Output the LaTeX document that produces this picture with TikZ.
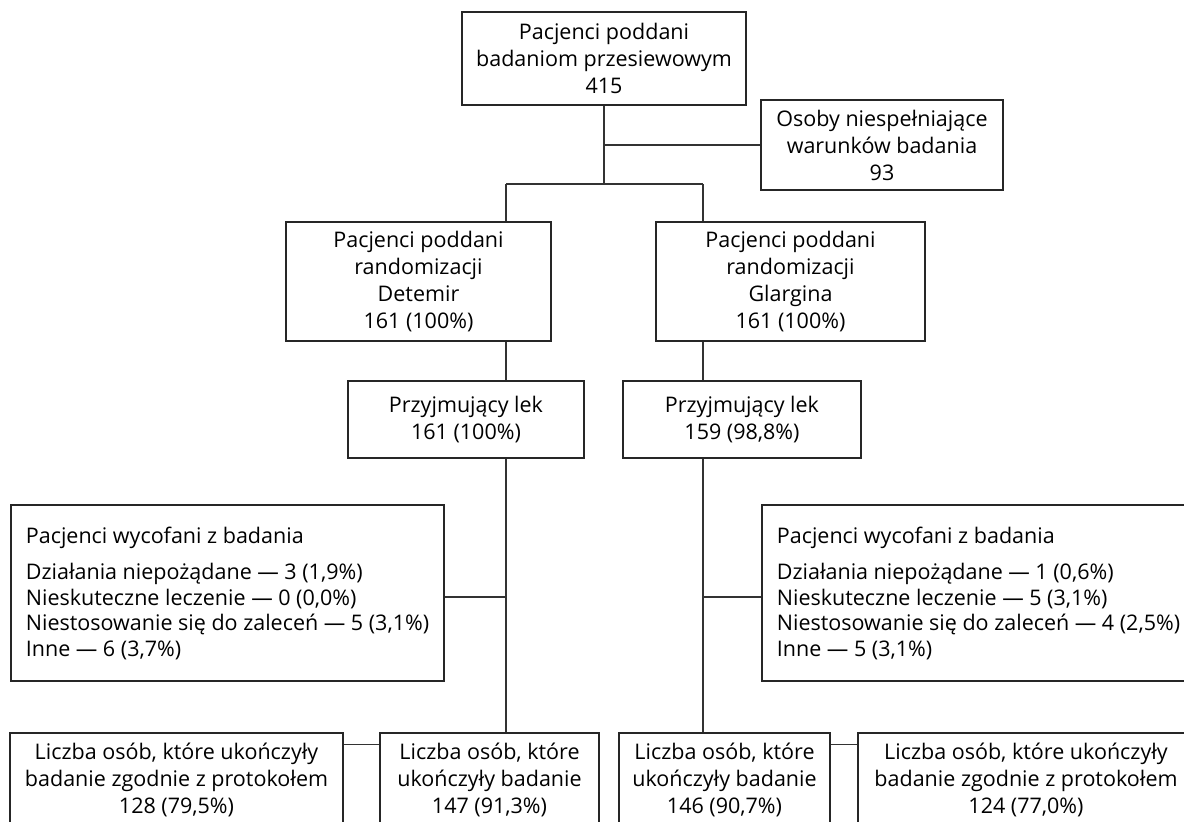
\documentclass[tikz,border=0pt]{standalone}
\usepackage{fontspec}
\setmainfont{Open Sans}
\usepackage{tikz}
\usetikzlibrary{shapes}
\usetikzlibrary{arrows}
\tikzstyle{flow} = [rectangle, align=center, inner sep=0pt, draw=black!85, line width=1.3pt, font=\fontsize{21.5pt}{27pt}\selectfont]
\tikzstyle{dropout} = [rectangle, align=left, inner sep=0pt, minimum width=433pt, minimum height=176pt, draw=black!85, line width=1.3pt, font=\fontsize{21.5pt}{25.5pt}\selectfont]
\tikzstyle{link} = [line width=1.3pt, draw=black!80]
\begin{document}
\begin{tikzpicture}[x=1pt, y=-1pt, node distance=140pt]

    \useasboundingbox (0,0) rectangle (1184,822);

    \node(screen)[flow, minimum width=284pt, minimum height=93pt] at (604,58.5) {Pacjenci poddani\\badaniom przesiewowym\\415};
    \node(excl)[flow, minimum width=242pt, minimum height=90pt, below of=screen, xshift=278pt, yshift=53.5pt] {Osoby niespełniające\\warunków badania\\93};

    \node(randD)[flow, minimum width=265pt, minimum height=119pt, below of=screen, xshift=-185.5pt, yshift=-83pt] {Pacjenci poddani\\randomizacji\\Detemir\\161 (100\%)};
    \node(randG)[flow, minimum width=269pt, minimum height=119pt, below of=screen, xshift=186.5pt, yshift=-83pt] {Pacjenci poddani\\randomizacji\\Glargina\\161 (100\%)};

    \node(takeD)[flow, minimum width=236pt, minimum height=77pt, below of=randD, xshift=47.5pt, yshift=2pt] {Przyjmujący lek\\161 (100\%)};
    \node(takeG)[flow, minimum width=238pt, minimum height=77pt, below of=randG, xshift=-48.5pt, yshift=2pt] {Przyjmujący lek\\159 (98,8\%)};

    \node(outD)[dropout, below of=takeD, xshift=-238.5pt, yshift=-33.5pt] {Pacjenci wycofani z badania\\[11pt]Działania niepożądane — 3 (1,9\%)\\Nieskuteczne leczenie — 0 (0,0\%)\\Niestosowanie się do zaleceń — 5 (3,1\%)\\Inne — 6 (3,7\%)};
    \node(outG)[dropout, below of=takeG, xshift=236.5pt, yshift=-33.5pt] {Pacjenci wycofani z badania\\[11pt]Działania niepożądane — 1 (0,6\%)\\Nieskuteczne leczenie — 5 (3,1\%)\\Niestosowanie się do zaleceń — 4 (2,5\%)\\Inne — 5 (3,1\%)};

    \node(finD)[flow, minimum width=219pt, minimum height=94pt, below of=outD, xshift=262pt, yshift=-47pt] {Liczba osób, które\\ukończyły badanie\\147 (91,3\%)};
    \node(protD)[flow, minimum width=333pt, minimum height=94pt, below of=outD, xshift=-51pt, yshift=-47pt] {Liczba osób, które ukończyły\\badanie zgodnie z protokołem\\128 (79,5\%)};
    \node(finG)[flow, minimum width=211pt, minimum height=94pt, below of=outG, xshift=-254pt, yshift=-47pt] {Liczba osób, które\\ukończyły badanie\\146 (90,7\%)};
    \node(protG)[flow, minimum width=336pt, minimum height=94pt, below of=outG, xshift=47.5pt, yshift=-47pt] {Liczba osób, które ukończyły\\badanie zgodnie z protokołem\\124 (77,0\%)};

    % branch points of the two arms
    \coordinate(spineD) at (506,184);
    \coordinate(spineG) at (703,184);

    \draw[link] (screen.south) -- (screen.south |- spineD);
    \draw[link] (screen.south |- excl.west) -- (excl.west);
    \draw[link] (spineD) -- (spineG);

    \draw[link] (spineD) -- (spineD |- randD.north);
    \draw[link] (spineD |- randD.south) -- (spineD |- takeD.north);
    \draw[link] (spineD |- takeD.south) -- (spineD |- finD.north);
    \draw[link] ([yshift=-4pt]outD.east) -- ([yshift=-4pt]outD.east -| spineD);

    \draw[link] (spineG) -- (spineG |- randG.north);
    \draw[link] (spineG |- randG.south) -- (spineG |- takeG.north);
    \draw[link] (spineG |- takeG.south) -- (spineG |- finG.north);
    \draw[link] ([yshift=-4pt]outG.west) -- ([yshift=-4pt]outG.west -| spineG);

    \draw[link] ([yshift=-12pt]protD.north east) -- ([yshift=-12pt]finD.north west);
    \draw[link] ([yshift=-12pt]finG.north east) -- ([yshift=-12pt]protG.north west);

\end{tikzpicture}
\end{document}
